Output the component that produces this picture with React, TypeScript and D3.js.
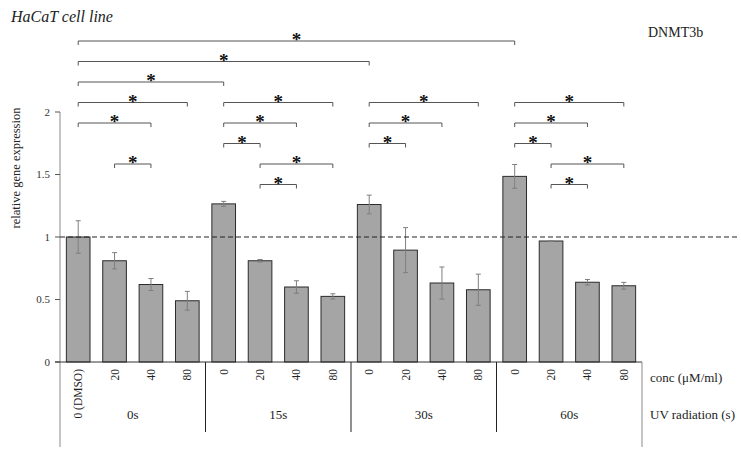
import * as d3 from "d3";

const concLabels = ["0 (DMSO)", "20", "40", "80", "0", "20", "40", "80", "0", "20", "40", "80", "0", "20", "40", "80"];
const groupLabels = ["0s", "15s", "30s", "60s"];
const means = [1.0, 0.81, 0.62, 0.49, 1.265, 0.81, 0.6, 0.525, 1.26, 0.895, 0.632, 0.578, 1.485, 0.968, 0.638, 0.61];
const errors = [0.13, 0.065, 0.048, 0.075, 0.02, 0.01, 0.05, 0.021, 0.075, 0.18, 0.128, 0.125, 0.095, 0.003, 0.022, 0.027];
const yTicks = [0, 0.5, 1, 1.5, 2];
// significance brackets: [from bar, to bar, stacking level]
const brackets: [number, number, number][] = [
  [0, 12, 0],
  [0, 8, 1],
  [0, 4, 2],
  [0, 3, 3], [4, 7, 3], [8, 11, 3], [12, 15, 3],
  [0, 2, 4], [4, 6, 4], [8, 10, 4], [12, 14, 4],
  [4, 5, 5], [8, 9, 5], [12, 13, 5],
  [1, 2, 6], [5, 7, 6], [13, 15, 6],
  [5, 6, 7], [13, 14, 7],
];

const font = "'Palatino Linotype', 'Book Antiqua', Palatino, 'Liberation Serif', serif";

export default function App() {
  const left = 60;
  const right = 642;
  const top = 112;
  const bottom = 362;

  const x = d3
    .scaleBand<number>()
    .domain(d3.range(means.length))
    .range([left, right])
    .paddingInner(0.35)
    .paddingOuter(0.175);
  const y = d3.scaleLinear().domain([0, 2]).range([bottom, top]);
  const levelY = d3.scaleLinear().domain([0, 7]).range([41, 184.5]);
  const cx = (i: number) => (x(i) ?? 0) + x.bandwidth() / 2;
  const step = x.step();
  const groupSize = 4;

  return (
    <svg width={741} height={454} style={{ display: "block", position: "absolute", left: 0, top: 0 }} fontFamily={font}>
      <text x={11} y={22} fontSize={16} fontStyle="italic" fill="#222">HaCaT cell line</text>
      <text x={648} y={37} fontSize={14} fill="#222">DNMT3b</text>

      <text
        transform={`translate(20,168) rotate(-90)`}
        textAnchor="middle"
        fontSize={12.5}
        fill="#222"
      >
        relative gene expression
      </text>

      {/* y axis */}
      <line x1={left} x2={left} y1={top} y2={447} stroke="#8a8a8a" />
      {yTicks.map((t) => (
        <g key={t}>
          <line x1={left - 5} x2={left} y1={y(t)} y2={y(t)} stroke="#555" />
          <text x={left - 10} y={y(t)} dy="0.35em" textAnchor="end" fontSize={11} fill="#333">
            {t}
          </text>
        </g>
      ))}

      {/* bars */}
      {means.map((m, i) => (
        <rect
          key={i}
          x={x(i)}
          y={y(m)}
          width={x.bandwidth()}
          height={bottom - y(m)}
          fill="#a5a5a5"
          stroke="#2b2b2b"
          strokeWidth={1}
        />
      ))}

      {/* error bars */}
      {means.map((m, i) => (
        <g key={i} stroke="#7f7f7f" strokeWidth={1}>
          <line x1={cx(i)} x2={cx(i)} y1={y(m + errors[i])} y2={y(m - errors[i])} />
          <line x1={cx(i) - 2.5} x2={cx(i) + 2.5} y1={y(m + errors[i])} y2={y(m + errors[i])} />
          <line x1={cx(i) - 2.5} x2={cx(i) + 2.5} y1={y(m - errors[i])} y2={y(m - errors[i])} />
        </g>
      ))}

      {/* reference line */}
      <line x1={left} x2={737} y1={y(1)} y2={y(1)} stroke="#222" strokeWidth={1.2} strokeDasharray="5,3" />

      {/* x axis */}
      <line x1={left - 5} x2={right} y1={bottom} y2={bottom} stroke="#333" />
      {groupLabels.map((g, k) => {
        const gx = left + step * groupSize * (k + 1);
        const last = k === groupLabels.length - 1;
        return (
          <g key={g}>
            <line x1={gx} x2={gx} y1={bottom} y2={last ? 447 : 432} stroke={last ? "#8a8a8a" : "#222"} />
            <text x={left + step * groupSize * (k + 0.5)} y={419} textAnchor="middle" fontSize={13} fill="#222">
              {g}
            </text>
          </g>
        );
      })}
      {concLabels.map((c, i) => (
        <text
          key={i}
          transform={`translate(${cx(i)},${bottom + 7}) rotate(-90)`}
          textAnchor="end"
          dy="0.35em"
          fontSize={11.5}
          fill="#222"
        >
          {c}
        </text>
      ))}
      <text x={650} y={382} fontSize={13} fill="#222">conc (μM/ml)</text>
      <text x={650} y={419} fontSize={13} fill="#222">UV radiation (s)</text>

      {/* significance brackets */}
      {brackets.map(([a, b, lv], k) => {
        const yy = levelY(lv);
        const x1 = cx(a);
        const x2 = cx(b);
        return (
          <g key={k}>
            <path d={`M${x1},${yy + 4}V${yy}H${x2}V${yy + 4}`} fill="none" stroke="#555" strokeWidth={1} />
            <text x={(x1 + x2) / 2} y={yy + 5} textAnchor="middle" fontSize={19} fontWeight="bold" fill="#111">
              *
            </text>
          </g>
        );
      })}
    </svg>
  );
}
